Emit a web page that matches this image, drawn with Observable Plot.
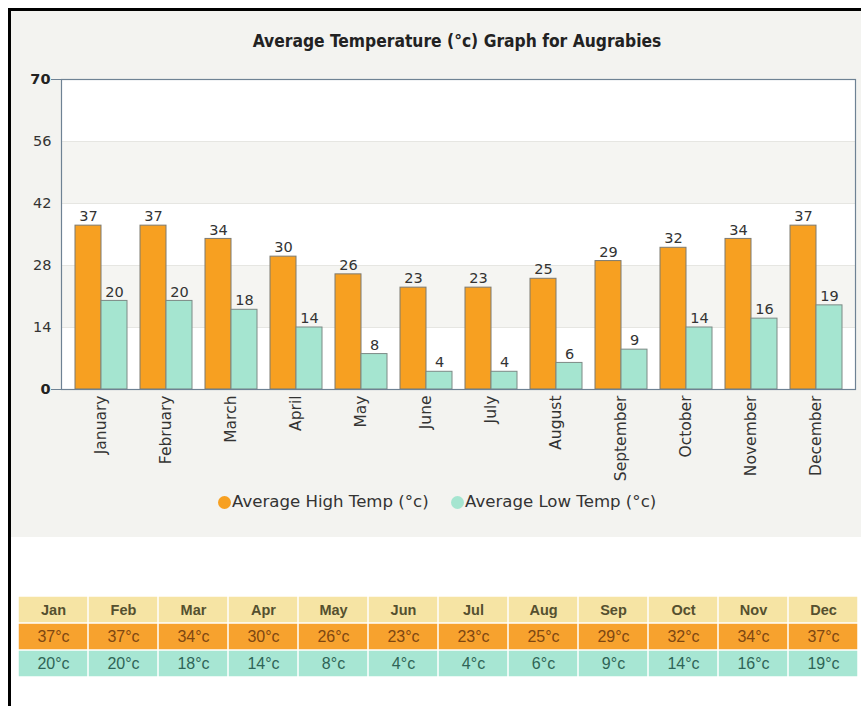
<!DOCTYPE html>
<html>
<head>
<meta charset="utf-8">
<script src="https://cdn.jsdelivr.net/npm/d3@7"></script>
<script src="https://cdn.jsdelivr.net/npm/@observablehq/plot@0.6"></script>
<style>
  html, body { margin: 0; padding: 0; background: #ffffff; }
  body { width: 861px; height: 706px; position: relative; overflow: hidden; font-family: "DejaVu Sans", Verdana, sans-serif; }
  #border-left { position: absolute; left: 8px; top: 8px; width: 3px; height: 698px; background: #000; }
  #border-top { position: absolute; left: 8px; top: 8px; width: 853px; height: 3px; background: #000; }
  #panel { position: absolute; left: 11px; top: 11px; width: 850px; height: 526px; background: #f3f3f0; }
  #title { position: absolute; left: 22px; width: 870px; top: 31px; text-align: center; font-family: "DejaVu Sans Condensed", "DejaVu Sans", sans-serif; font-weight: bold; font-size: 17.3px; color: #222; }
  #chart { position: absolute; left: 12px; top: 60px; }
  #legend { position: absolute; top: 492px; left: 0; width: 861px; height: 22px; }
  .lg { position: absolute; top: 0; font-size: 16.6px; color: #333; white-space: nowrap; }
  .dot { position: absolute; top: 4px; width: 13px; height: 13px; border-radius: 50%; }
  #table { position: absolute; left: 15px; top: 595px; }
</style>
</head>
<body>
<div id="panel"></div>
<div id="border-left"></div>
<div id="border-top"></div>
<div id="title"></div>
<div id="chart"></div>
<div id="legend"></div>
<div id="table"></div>
<script>
// ---- data ----
const title = "Average Temperature (°c) Graph for Augrabies";
const months = ["January","February","March","April","May","June","July","August","September","October","November","December"];
const monthsShort = ["Jan","Feb","Mar","Apr","May","Jun","Jul","Aug","Sep","Oct","Nov","Dec"];
const highTemps = [37, 37, 34, 30, 26, 23, 23, 25, 29, 32, 34, 37];
const lowTemps = [20, 20, 18, 14, 8, 4, 4, 6, 9, 14, 16, 19];
const seriesNames = ["Average High Temp (°c)", "Average Low Temp (°c)"];
const yTicks = [0, 14, 28, 42, 56, 70];
const yDomain = [0, 70];

const highColor = "#f7a021";
const lowColor = "#a5e5d0";

document.getElementById("title").textContent = title;

const highData = months.map((m, i) => ({month: m, value: highTemps[i]}));
const lowData = months.map((m, i) => ({month: m, value: lowTemps[i]}));
const bands = [[14, 28], [42, 56]].map(([a, b]) => ({y1: a, y2: b}));

const chart = Plot.plot({
  width: 849,
  height: 429,
  marginLeft: 49,
  marginRight: 6,
  marginTop: 19,
  marginBottom: 100,
  style: {background: "transparent", fontFamily: "DejaVu Sans, Verdana, sans-serif", color: "#333"},
  x: {domain: months, padding: 0.2, label: null},
  y: {domain: yDomain, label: null},
  marks: [
    Plot.frame({fill: "#ffffff"}),
    Plot.rectY(bands, {y1: "y1", y2: "y2", fill: "#f5f5f2"}),
    Plot.ruleY(yTicks.filter(d => d > 0 && d < 70), {stroke: "#e6e6e2"}),
    Plot.barY(highData, {x: "month", y: "value", fill: highColor, stroke: "#7d7a70", strokeWidth: 1, insetRight: 26}),
    Plot.barY(lowData, {x: "month", y: "value", fill: lowColor, stroke: "#7d8a86", strokeWidth: 1, insetLeft: 26}),
    Plot.text(highData, {x: "month", y: "value", text: d => String(d.value), dx: -13, dy: -9, fontSize: 14.5, fill: "#333"}),
    Plot.text(lowData, {x: "month", y: "value", text: d => String(d.value), dx: 13, dy: -9, fontSize: 14.5, fill: "#333"}),
    Plot.frame({stroke: "#6e8294", strokeWidth: 1.2}),
    Plot.axisY({ticks: yTicks.filter(d => d > 0 && d < 70), tickSize: 0, tickPadding: 10, fontSize: 14.5, fill: "#333", label: null}),
    Plot.axisY({ticks: [0, 70], tickSize: 10, tickPadding: 1, fontSize: 14.5, fontWeight: "bold", stroke: "#6e8294", fill: "#222", label: null}),
    Plot.axisX({tickRotate: -90, tickSize: 0, tickPadding: 6, fontSize: 15.5, fill: "#333", label: null})
  ]
});
document.getElementById("chart").appendChild(chart);

// legend
const legend = document.getElementById("legend");
const lgItems = [
  {name: seriesNames[0], color: highColor, dotX: 218, textX: 232},
  {name: seriesNames[1], color: lowColor, dotX: 451, textX: 465}
];
lgItems.forEach(it => {
  const dot = document.createElement("div");
  dot.className = "dot";
  dot.style.left = it.dotX + "px";
  dot.style.background = it.color;
  legend.appendChild(dot);
  const t = document.createElement("div");
  t.className = "lg";
  t.style.left = it.textX + "px";
  t.textContent = it.name;
  legend.appendChild(t);
});

// table below the chart
const rows = ["head", "high", "low"];
const tableData = [];
monthsShort.forEach((m, i) => {
  tableData.push({col: m, row: "head", text: m});
  tableData.push({col: m, row: "high", text: highTemps[i] + "°c"});
  tableData.push({col: m, row: "low", text: lowTemps[i] + "°c"});
});
const rowFill = {head: "#f6e4a4", high: "#f7a22e", low: "#a7e6d3"};
const rowText = {head: "#55502f", high: "#7e4712", low: "#2f6456"};

const table = Plot.plot({
  width: 846,
  height: 82,
  margin: 0,
  style: {background: "transparent", fontFamily: "Liberation Sans, Arial, sans-serif"},
  x: {domain: monthsShort, padding: 0, axis: null},
  y: {domain: rows, padding: 0, axis: null},
  marks: [
    Plot.cell(tableData, {x: "col", y: "row", fill: d => rowFill[d.row], inset: 0.75}),
    Plot.text(tableData.filter(d => d.row === "head"), {x: "col", y: "row", text: "text", fill: d => rowText[d.row], fontSize: 14.5, fontWeight: "bold"}),
    Plot.text(tableData.filter(d => d.row !== "head"), {x: "col", y: "row", text: "text", fill: d => rowText[d.row], fontSize: 16}),
  ]
});
document.getElementById("table").appendChild(table);
</script>
</body>
</html>
